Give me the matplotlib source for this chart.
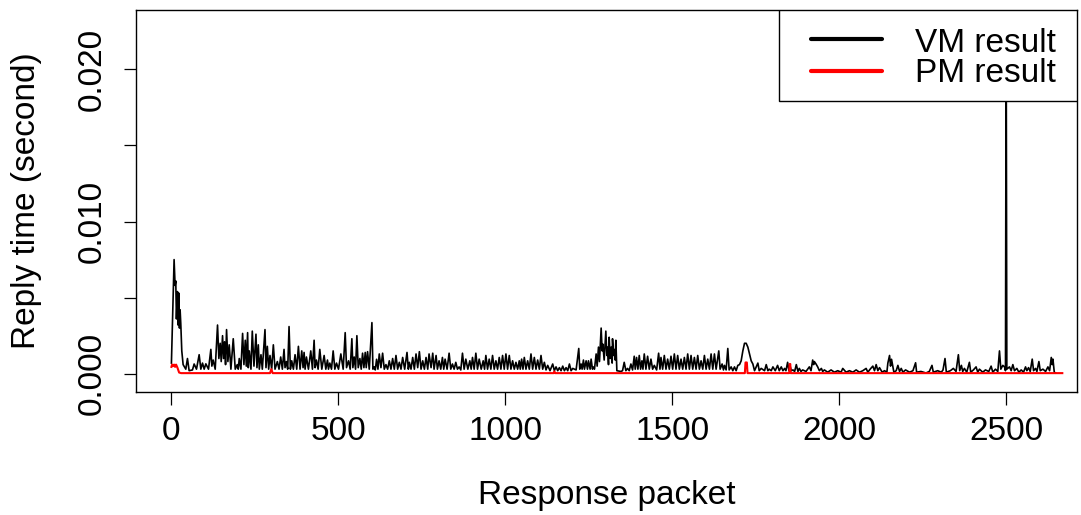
import matplotlib
matplotlib.use("Agg")
import numpy as np
import matplotlib.pyplot as plt
from matplotlib.patches import Rectangle

plt.rcParams.update(
    {
        "font.family": ["Liberation Sans", "DejaVu Sans"],
        "font.size": 24,
    }
)

# (packet index, reply time in ms)
vm_points = [
    (1, 0.7), (9, 7.5), (12, 5.8), (14, 6.1), (16, 3.6), (19, 5.4), (21, 3.2), (23, 5.3),
    (25, 3.0), (27, 4.2), (29, 3.3), (32, 1.5), (36, 0.6), (44, 0.3), (49, 1.0), (54, 0.2),
    (64, 0.25), (69, 0.64), (76, 0.3), (84, 1.25), (89, 0.3), (94, 0.7), (99, 0.3), (104, 0.65),
    (112, 0.3), (119, 1.6), (122, 0.5), (126, 0.9), (132, 0.3), (139, 3.2), (143, 1.0), (147, 2.0),
    (150, 0.8), (154, 2.5), (157, 1.0), (160, 2.1), (163, 0.6), (166, 2.9), (170, 0.8), (174, 1.9),
    (179, 0.3), (186, 2.3), (192, 0.3), (198, 0.6), (201, 0.3), (204, 1.0), (209, 0.3), (214, 2.65),
    (218, 0.6), (222, 2.2), (225, 0.5), (229, 2.7), (231, 0.4), (234, 1.5), (239, 0.3), (243, 2.8),
    (248, 0.5), (254, 2.6), (257, 0.4), (261, 1.9), (264, 0.3), (269, 1.25), (273, 0.3), (281, 2.9),
    (284, 0.4), (288, 1.8), (292, 0.3), (296, 1.2), (301, 0.3), (306, 1.9), (311, 0.3), (318, 0.8),
    (323, 0.3), (328, 1.1), (333, 0.3), (338, 1.6), (341, 0.4), (345, 0.8), (349, 0.3), (353, 3.1),
    (357, 0.3), (361, 0.85), (366, 0.3), (371, 1.25), (376, 0.3), (381, 1.8), (386, 0.3), (391, 1.5),
    (395, 0.4), (398, 1.4), (401, 0.3), (405, 1.1), (411, 0.3), (418, 1.5), (423, 0.3), (428, 2.2),
    (431, 0.4), (435, 0.9), (440, 0.3), (445, 1.6), (451, 0.3), (458, 1.2), (463, 0.3), (468, 0.9),
    (471, 0.3), (475, 0.7), (480, 0.3), (485, 1.5), (490, 0.3), (495, 0.7), (501, 0.3), (508, 1.3),
    (515, 0.3), (521, 2.7), (525, 0.4), (531, 0.85), (536, 0.3), (541, 2.3), (544, 0.4), (548, 1.1),
    (552, 0.3), (556, 2.5), (560, 0.4), (565, 1.0), (569, 0.3), (573, 1.35), (577, 0.4), (581, 1.4),
    (584, 0.4), (588, 1.45), (593, 0.3), (601, 3.36), (604, 0.3), (608, 0.45), (611, 0.25), (615, 0.95),
    (619, 0.3), (623, 1.3), (628, 0.4), (633, 1.35), (638, 0.3), (643, 0.6), (648, 0.3), (653, 0.85),
    (658, 0.3), (663, 1.0), (668, 0.3), (673, 1.2), (678, 0.3), (683, 0.75), (688, 0.3), (693, 1.07),
    (699, 0.3), (706, 1.4), (710, 0.3), (713, 0.75), (718, 0.3), (723, 1.07), (728, 0.3), (733, 1.3),
    (738, 0.4), (743, 1.45), (748, 0.3), (753, 0.85), (758, 0.3), (763, 1.07), (768, 0.3), (772, 1.3),
    (778, 0.4), (783, 1.35), (787, 0.3), (793, 1.2), (797, 0.3), (802, 0.85), (807, 0.3), (812, 1.07),
    (816, 0.3), (820, 0.96), (826, 0.3), (832, 1.35), (837, 0.3), (842, 0.64), (847, 0.3), (852, 0.75),
    (857, 0.3), (862, 0.45), (867, 0.25), (872, 1.35), (877, 0.3), (882, 0.96), (888, 0.3), (894, 0.85),
    (898, 0.3), (902, 1.07), (907, 0.3), (912, 1.35), (917, 0.3), (922, 0.96), (928, 0.3), (934, 0.85),
    (938, 0.3), (942, 1.2), (947, 0.3), (952, 0.96), (957, 0.3), (962, 1.2), (967, 0.3), (972, 0.85),
    (977, 0.3), (982, 1.07), (987, 0.3), (992, 1.2), (997, 0.3), (1002, 1.3), (1007, 0.3), (1012, 1.2),
    (1017, 0.3), (1022, 0.85), (1027, 0.3), (1032, 0.75), (1037, 0.3), (1042, 0.85), (1045, 0.3), (1049, 0.96),
    (1053, 0.3), (1057, 1.07), (1062, 0.3), (1067, 0.85), (1072, 0.3), (1077, 1.3), (1082, 0.3), (1087, 1.07),
    (1092, 0.3), (1097, 0.9), (1102, 0.3), (1107, 1.2), (1112, 0.3), (1117, 0.75), (1122, 0.25), (1127, 0.55),
    (1134, 0.2), (1142, 0.64), (1147, 0.2), (1152, 0.45), (1157, 0.2), (1162, 0.4), (1167, 0.2), (1172, 0.5),
    (1177, 0.2), (1182, 0.4), (1187, 0.2), (1192, 0.64), (1197, 0.2), (1202, 0.35), (1212, 0.25), (1220, 1.66),
    (1223, 0.3), (1227, 0.64), (1230, 0.3), (1234, 0.9), (1237, 0.3), (1242, 0.85), (1246, 0.3), (1249, 0.85),
    (1254, 0.3), (1257, 0.96), (1261, 0.3), (1263, 0.45), (1267, 0.3), (1272, 1.3), (1275, 0.5), (1279, 1.75),
    (1282, 0.8), (1287, 3.0), (1290, 1.5), (1292, 1.95), (1296, 0.9), (1301, 2.8), (1304, 1.2), (1306, 1.75),
    (1309, 0.6), (1311, 2.4), (1314, 1.0), (1317, 1.75), (1320, 0.7), (1321, 2.3), (1324, 1.2), (1326, 1.6),
    (1329, 0.9), (1331, 2.2), (1334, 0.2), (1346, 0.15), (1351, 0.2), (1356, 0.75), (1361, 0.2), (1366, 0.35),
    (1371, 0.2), (1376, 0.64), (1381, 0.25), (1386, 1.15), (1389, 0.3), (1393, 1.07), (1397, 0.3), (1401, 1.2),
    (1405, 0.3), (1409, 0.85), (1412, 0.3), (1416, 1.3), (1421, 0.3), (1426, 1.15), (1431, 0.3), (1436, 0.96),
    (1441, 0.3), (1446, 0.55), (1453, 0.25), (1459, 1.35), (1463, 0.3), (1466, 1.07), (1471, 0.3), (1476, 1.2),
    (1481, 0.3), (1486, 0.96), (1491, 0.3), (1496, 1.15), (1501, 0.3), (1506, 1.3), (1511, 0.3), (1516, 1.2),
    (1521, 0.3), (1526, 0.96), (1531, 0.3), (1536, 1.07), (1541, 0.3), (1546, 1.3), (1551, 0.3), (1556, 1.2),
    (1561, 0.3), (1566, 1.07), (1571, 0.3), (1576, 1.2), (1581, 0.3), (1586, 0.85), (1591, 0.3), (1596, 1.2),
    (1601, 0.3), (1606, 0.96), (1611, 0.3), (1616, 1.3), (1621, 0.3), (1626, 1.3), (1631, 0.3), (1639, 1.5),
    (1643, 0.3), (1649, 0.64), (1653, 0.25), (1656, 0.55), (1661, 0.25), (1666, 1.66), (1670, 0.25), (1676, 0.45),
    (1681, 0.2), (1686, 0.45), (1691, 0.2), (1696, 0.55), (1701, 0.6), (1706, 0.85), (1711, 1.5), (1716, 2.0),
    (1721, 2.0), (1726, 1.75), (1731, 1.3), (1736, 0.85), (1741, 0.64), (1746, 0.2), (1756, 0.7), (1760, 0.2),
    (1766, 0.35), (1776, 0.2), (1781, 0.6), (1786, 0.2), (1790, 0.3), (1796, 0.2), (1801, 0.45), (1808, 0.2),
    (1815, 0.55), (1820, 0.2), (1826, 0.45), (1831, 0.2), (1836, 0.35), (1840, 0.2), (1845, 0.75), (1849, 0.2),
    (1852, 0.55), (1856, 0.2), (1861, 0.25), (1866, 0.15), (1871, 0.6), (1876, 0.15), (1880, 0.35), (1885, 0.15),
    (1890, 0.25), (1900, 0.15), (1910, 0.45), (1915, 0.2), (1920, 0.9), (1923, 0.6), (1925, 0.8), (1930, 0.64),
    (1935, 0.45), (1940, 0.2), (1946, 0.35), (1950, 0.15), (1955, 0.25), (1965, 0.1), (1975, 0.25), (1985, 0.1),
    (1995, 0.2), (2005, 0.1), (2010, 0.35), (2020, 0.1), (2030, 0.2), (2040, 0.1), (2050, 0.25), (2060, 0.1),
    (2070, 0.2), (2080, 0.35), (2085, 0.1), (2092, 0.3), (2100, 0.5), (2105, 0.2), (2110, 0.6), (2115, 0.2),
    (2120, 0.4), (2128, 0.1), (2135, 0.2), (2142, 0.1), (2145, 0.7), (2150, 1.2), (2153, 0.5), (2156, 0.95),
    (2160, 0.45), (2163, 0.1), (2170, 0.2), (2175, 0.55), (2180, 0.15), (2185, 0.35), (2190, 0.1), (2198, 0.25),
    (2210, 0.1), (2220, 0.2), (2228, 0.72), (2231, 0.1), (2244, 0.15), (2259, 0.05), (2269, 0.15), (2277, 0.55),
    (2281, 0.1), (2294, 0.2), (2305, 0.1), (2310, 0.25), (2316, 1.0), (2320, 0.1), (2332, 0.2), (2341, 0.35),
    (2349, 0.15), (2356, 1.25), (2360, 0.2), (2365, 0.55), (2369, 0.15), (2374, 0.35), (2381, 0.1), (2389, 0.75),
    (2393, 0.1), (2401, 0.25), (2409, 0.45), (2414, 0.1), (2419, 0.3), (2429, 0.1), (2437, 0.25), (2447, 0.15),
    (2454, 0.5), (2459, 0.1), (2467, 0.3), (2474, 0.15), (2479, 1.5), (2483, 0.3), (2489, 0.55), (2494, 0.45),
    (2497, 0.2), (2499, 23.5), (2501, 0.3), (2509, 0.45), (2514, 0.2), (2519, 0.6), (2524, 0.2), (2531, 0.35),
    (2537, 0.1), (2544, 0.25), (2551, 0.1), (2557, 0.45), (2561, 0.2), (2566, 0.4), (2571, 0.15), (2577, 0.96),
    (2581, 0.2), (2587, 0.35), (2591, 0.15), (2597, 0.8), (2601, 0.2), (2609, 0.3), (2617, 0.15), (2624, 0.45),
    (2629, 0.2), (2634, 1.07), (2637, 0.6), (2639, 0.96), (2643, 0.1), (2647, 0.05),
]

pm_points = [
    (1, 0.45), (3, 0.6), (6, 0.5), (9, 0.6), (12, 0.45), (15, 0.6), (19, 0.4), (24, 0.08),
    (30, 0.04), (296, 0.04), (300, 0.3), (304, 0.04), (1145, 0.04), (1147, 0.15), (1149, 0.04),
    (1717, 0.04), (1719, 0.74), (1723, 0.74), (1725, 0.04), (1850, 0.04), (1851, 0.64),
    (1853, 0.64), (1854, 0.04), (2667, 0.04),
]

series_labels = ["VM result", "PM result"]
series_colors = ["black", "red"]

x_ticks = [0, 500, 1000, 1500, 2000, 2500]
y_ticks = [0.0, 0.005, 0.010, 0.015, 0.020]
y_tick_labels = ["0.000", "", "0.010", "", "0.020"]

vm_x, vm_ms = np.array(vm_points).T
pm_x, pm_ms = np.array(pm_points).T

fig = plt.figure(figsize=(10.81, 5.15), dpi=100)
ax = fig.add_axes([136 / 1081, 123 / 515, 941 / 1081, 382 / 515])

ax.plot(vm_x, vm_ms / 1000, color=series_colors[0], lw=1.2)
ax.plot(pm_x, pm_ms / 1000, color=series_colors[1], lw=1.5)

ax.set_xlim(-105, 2711)
ax.set_ylim(-0.0012, 0.0239)
ax.set_xticks(x_ticks)
ax.set_yticks(y_ticks)
ax.set_yticklabels(y_tick_labels, rotation=90, va="center")

for spine in ax.spines.values():
    spine.set_linewidth(1.0)
ax.tick_params(axis="both", direction="out", length=9, width=0.9)
ax.tick_params(axis="x", pad=8)
ax.tick_params(axis="y", pad=11)

ax.set_xlabel("Response packet", labelpad=24)
ax.set_ylabel("Reply time (second)", labelpad=25)

# R-style legend box drawn in axes fraction
ax.add_patch(Rectangle((0.6833, 0.7618), 0.3167, 0.2382, transform=ax.transAxes,
                       facecolor="white", edgecolor="black", lw=1.0, zorder=5))
for i, (lab, col) in enumerate(zip(series_labels, series_colors)):
    y_line = 0.9228 - i * 0.0817
    y_text = 0.8901 - i * 0.0786
    ax.plot([0.7173, 0.7928], [y_line, y_line], transform=ax.transAxes,
            color=col, lw=3.0, solid_capstyle="round", zorder=6)
    ax.text(0.8279, y_text, lab, transform=ax.transAxes, ha="left",
            va="baseline", zorder=6)

fig.savefig("out.png", dpi=100)
